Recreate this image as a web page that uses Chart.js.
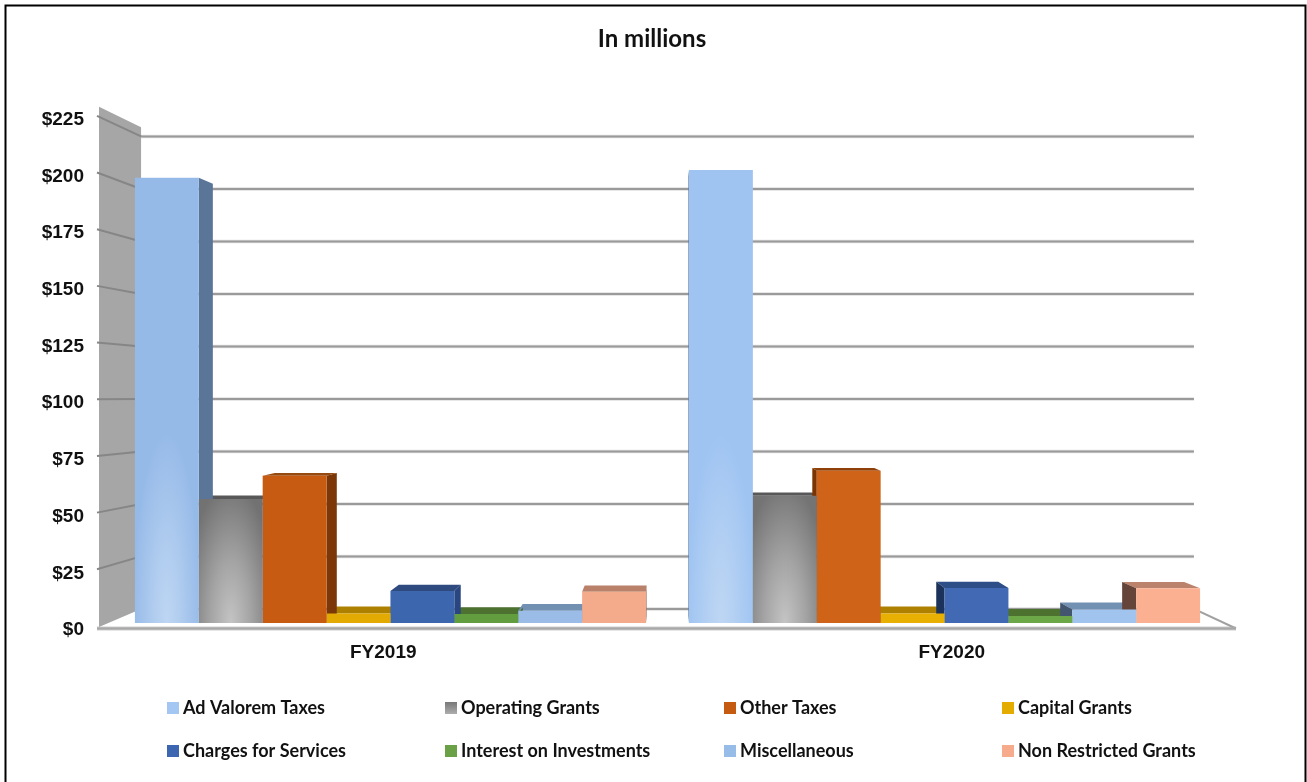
<!DOCTYPE html>
<html><head><meta charset="utf-8">
<style>html,body{margin:0;padding:0;background:#fff}canvas{display:block}</style>
<script src="https://cdn.jsdelivr.net/npm/chart.js@4/dist/chart.umd.min.js"></script>
</head><body><canvas id="c" width="1307" height="782"></canvas>
<script>
const categories = ['FY2019', 'FY2020'];
const seriesNames = ['Ad Valorem Taxes','Operating Grants','Other Taxes','Capital Grants','Charges for Services','Interest on Investments','Miscellaneous','Non Restricted Grants'];
const adValorem = [199.6, 203];
const operating = [55.6, 57];
const otherTaxes = [66, 68.3];
const capital = [4.3, 4.3];
const charges = [14.4, 15.7];
const interest = [4, 3.1];
const misc = [5.5, 6.1];
const nonRestricted = [14, 15.6];
const seriesValues = [adValorem, operating, otherTaxes, capital, charges, interest, misc, nonRestricted];
const yTicks = [0,25,50,75,100,125,150,175,200,225];

const frontColors = [['#96BAE8','#9FC4F2'],['#727272','#747474'],['#C75B12','#CF6318'],['#E3AA03','#E9B004'],['#3C66AE','#4169B4'],['#629E3F','#6CA748'],['#9ABCE6','#A1C4EE'],['#F4AB8C','#FBB092']];
const sideColors = [['#5B7599','#5F7CA3'],['#4A4A4A','#4A4A4A'],['#7C3708','#7A3404'],['#8A6600','#8A6600'],['#2A4680','#1C325A'],['#3F6B2A','#3C5A25'],['#5A7698','#43566F'],['#A37560','#65443A']];
const topColors = [['#7C99C0','#85A3CC'],['#585858','#585858'],['#964A10','#8F4008'],['#AE8000','#AE8000'],['#2E4A7F','#2E4E88'],['#4D7230','#4D7230'],['#7290B2','#7290B2'],['#B9806A','#BC836C']];
const legendSwatch = ['#A4C6F3','#8C8C8C','#C55A11','#E5AC00','#3D66B0','#6AA146','#98BCE8','#F6AB8D'];
const glow = [[190,214,243],[196,196,196]];

const VP = {x:667.5, y:382.5};
const BACK = 0.926, BAR_DEPTH = 0.97;
const proj = (x,y,k) => [VP.x+(x-VP.x)*k, VP.y+(y-VP.y)*k];
function poly(ctx, pts, fill){ctx.beginPath();pts.forEach((p,i)=>i?ctx.lineTo(p[0],p[1]):ctx.moveTo(p[0],p[1]));ctx.closePath();ctx.fillStyle=fill;ctx.fill();}
function line(ctx,a,b,c,w){ctx.beginPath();ctx.moveTo(a[0],a[1]);ctx.lineTo(b[0],b[1]);ctx.strokeStyle=c;ctx.lineWidth=w;ctx.stroke();}

const scene = {
  id:'scene',
  beforeDatasetsDraw(chart){
    const ctx=chart.ctx, y=chart.scales.y, a=chart.chartArea;
    ctx.save();
    const wallTop = a.top-10;
    poly(ctx,[[a.left,wallTop],proj(a.left,wallTop,BACK),proj(a.left,a.bottom,BACK),[a.left,a.bottom]],'#A6A6A6');
    yTicks.forEach(v=>{
      const py=y.getPixelForValue(v);
      const bl=proj(a.left,py,BACK), br=proj(a.right,py,BACK);
      line(ctx,[bl[0],bl[1]],[br[0],br[1]],'rgba(160,160,160,0.35)',3.5);
      line(ctx,[bl[0],bl[1]],[br[0],br[1]],'#9A9A9A',2);
      if(v>0) line(ctx,[a.left-2,py-1],bl,'#868686',2);
    });
    const fy=a.bottom+1.5;
    line(ctx,proj(a.right,a.bottom,BACK),[a.right,fy],'#A0A0A0',2);
    line(ctx,[a.left-2,fy],[a.right,fy],'rgba(170,170,170,0.4)',4.5);
    line(ctx,[a.left-2,fy],[a.right,fy],'#A8A8A8',2.5);
    const all=[];
    chart.data.datasets.forEach((d,i)=>chart.getDatasetMeta(i).data.forEach((el,j)=>all.push([i,j,el])));
    all.forEach(([i,j,el])=>{
      const l=el.x-el.width/2,r=el.x+el.width/2,t=el.y;
      if(t>VP.y) poly(ctx,[[l,t],[r,t],proj(r,t,BAR_DEPTH),proj(l,t,BAR_DEPTH)],topColors[i][j]);
    });
    all.forEach(([i,j,el])=>{
      const l=el.x-el.width/2,r=el.x+el.width/2,t=el.y,b=el.base;
      if(r<VP.x) poly(ctx,[[r,t],proj(r,t,BAR_DEPTH),proj(r,b,BAR_DEPTH),[r,b]],sideColors[i][j]);
      else if(l>VP.x) poly(ctx,[[l,t],proj(l,t,BAR_DEPTH),proj(l,b,BAR_DEPTH),[l,b]],sideColors[i][j]);
    });
    ctx.restore();
  },
  afterDatasetsDraw(chart){
    const ctx=chart.ctx;
    [[0,34,190],[1,46,140]].forEach(([i,rx,ry])=>{
      chart.getDatasetMeta(i).data.forEach(el=>{
        const l=el.x-el.width/2,t=el.y,b=el.base,c=glow[i];
        ctx.save();
        ctx.beginPath();ctx.rect(l,t,el.width,b-t);ctx.clip();
        ctx.translate(el.x,b);ctx.scale(1,ry/rx);
        const g=ctx.createRadialGradient(0,0,0,0,0,rx);
        g.addColorStop(0,`rgba(${c},1)`);g.addColorStop(0.45,`rgba(${c},0.6)`);g.addColorStop(1,`rgba(${c},0)`);
        ctx.fillStyle=g;ctx.fillRect(-rx,-rx,rx*2,rx);
        ctx.restore();
      });
    });
  },
  afterDraw(chart){
    const ctx=chart.ctx;
    ctx.save();
    const colX=[167,445,724,1002], rowY=[708,751];
    ctx.font='bold 18px Lato';ctx.textBaseline='middle';ctx.textAlign='left';
    seriesNames.forEach((n,i)=>{
      const x=colX[i%4], yy=rowY[Math.floor(i/4)];
      if(i===1){const g=ctx.createLinearGradient(x,yy-6,x,yy+6);g.addColorStop(0,'#787878');g.addColorStop(1,'#ADADAD');ctx.fillStyle=g;}
      else ctx.fillStyle=legendSwatch[i];
      ctx.fillRect(x,yy-6,12,12);
      ctx.fillStyle='#111111';
      ctx.fillText(n,x+16,yy);
    });
    ctx.beginPath();ctx.moveTo(5.5,782);ctx.lineTo(5.5,5.5);ctx.lineTo(1305.5,5.5);ctx.lineTo(1305.5,782);
    ctx.strokeStyle='#000';ctx.lineWidth=2;ctx.stroke();
    ctx.restore();
  }
};

new Chart(document.getElementById('c'),{
  type:'bar',
  data:{
    datasets:seriesNames.map((n,i)=>({
      label:n,
      xAxisID:'xBars',yAxisID:'yBars',
      data:seriesValues[i].map((v,j)=>({x:j,y:v})),
      backgroundColor:frontColors[i].slice(),
      borderWidth:0,
      barPercentage:1,categoryPercentage:0.9224
    }))
  },
  options:{
    responsive:false,animation:false,
    layout:{padding:{left:0,top:0,bottom:0,right:3}},
    plugins:{
      legend:{display:false},tooltip:{enabled:false},
      title:{display:true,text:'In millions',color:'#111',font:{family:'Lato',size:24,weight:'bold'},padding:{top:25,bottom:63}}
    },
    scales:{
      y:{type:'linear',position:'left',min:0,max:225,
        afterFit(s){s.width=99;},
        grid:{display:false},border:{display:false},
        ticks:{stepSize:25,padding:7,labelOffset:3,color:'#111',font:{family:'Liberation Sans',size:19,weight:'bold'},callback:v=>'$'+v}},
      x:{type:'category',position:'bottom',labels:categories,offset:true,
        afterFit(s){s.height=155;},
        grid:{display:false},border:{display:false},
        ticks:{padding:6,color:'#111',font:{family:'Liberation Sans',size:19,weight:'bold'}}},
      xBars:{type:'linear',display:false,offset:false,min:-0.526,max:1.526,ticks:{stepSize:1,includeBounds:false}},
      yBars:{type:'linear',position:'right',display:true,min:-1.79,max:226.9,
        afterFit(s){s.width=68;},
        grid:{display:false},border:{display:false},ticks:{display:false}}
    }
  },
  plugins:[scene]
});
</script></body></html>
